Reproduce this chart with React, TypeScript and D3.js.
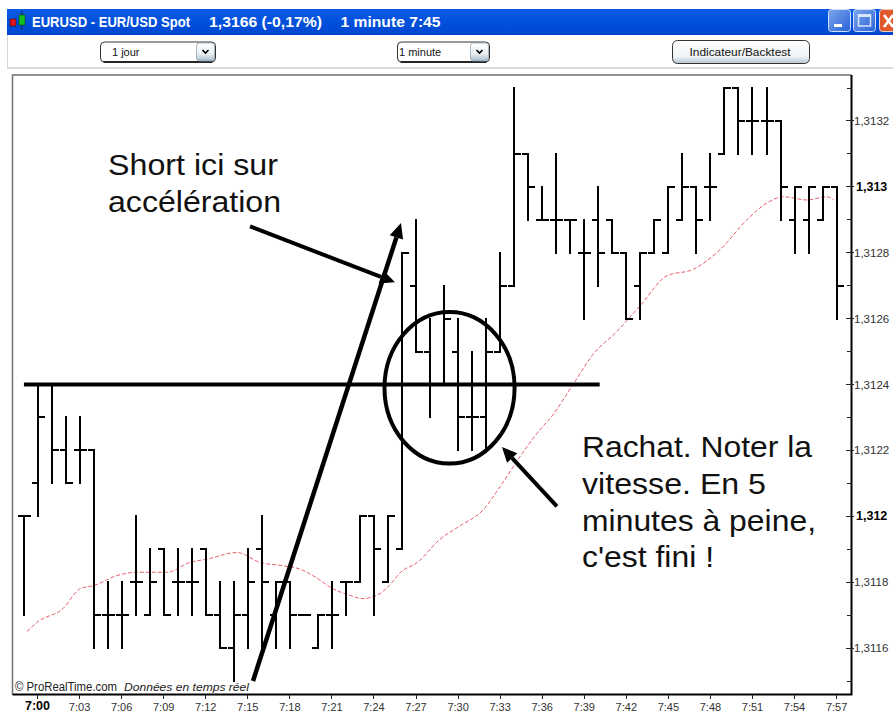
import React from "react";
import * as d3 from "d3";

// ---- OHLC bars, one per minute starting at 6:59 ----
const opens = [1.3120,1.3121,1.3124,1.3122,1.3122,1.3122,1.3117,1.3117,1.3118,1.3117,1.3119,1.3118,1.3118,1.3119,1.3117,1.3116,1.3117,1.3119,1.3117,1.3118,1.3117,1.3116,1.3117,1.3118,1.3118,1.3120,1.3118,1.3119,1.3127,1.3125,1.3124,1.3125,1.3123,1.3123,1.3125,1.3127,1.3131,1.3129,1.3129,1.3129,1.3128,1.3129,1.3129,1.3128,1.3127,1.3128,1.3128,1.3129,1.3130,1.3130,1.3131,1.3133,1.3132,1.3132,1.3132,1.3129,1.3129,1.3129,1.3130];
const highs = [1.3120,1.3124,1.3124,1.3123,1.3123,1.3122,1.3118,1.3118,1.3120,1.3119,1.3119,1.3119,1.3119,1.3119,1.3118,1.3118,1.3119,1.3120,1.3118,1.3118,1.3117,1.3117,1.3118,1.3118,1.3120,1.3120,1.3120,1.3128,1.3129,1.3126,1.3127,1.3126,1.3125,1.3126,1.3128,1.3133,1.3131,1.3130,1.3131,1.3129,1.3129,1.3130,1.3129,1.3128,1.3128,1.3129,1.3130,1.3131,1.3130,1.3131,1.3133,1.3133,1.3133,1.3133,1.3132,1.3130,1.3130,1.3130,1.3130];
const lows = [1.3117,1.3120,1.3121,1.3121,1.3121,1.3116,1.3116,1.3116,1.3117,1.3117,1.3117,1.3117,1.3117,1.3117,1.3116,1.3115,1.3116,1.3116,1.3116,1.3116,1.3117,1.3116,1.3116,1.3117,1.3118,1.3117,1.3118,1.3119,1.3125,1.3123,1.3124,1.3122,1.3122,1.3122,1.3125,1.3127,1.3129,1.3129,1.3128,1.3128,1.3126,1.3127,1.3128,1.3126,1.3126,1.3128,1.3128,1.3129,1.3128,1.3129,1.3131,1.3131,1.3131,1.3131,1.3129,1.3128,1.3128,1.3129,1.3126];
const closes = [1.3120,1.3123,1.3122,1.3121,1.3122,1.3117,1.3117,1.3117,1.3118,1.3118,1.3117,1.3118,1.3118,1.3117,1.3116,1.3117,1.3118,1.3118,1.3118,1.3117,1.3117,1.3117,1.3117,1.3118,1.3120,1.3119,1.3120,1.3128,1.3125,1.3124,1.3126,1.3123,1.3123,1.3125,1.3127,1.3131,1.3130,1.3129,1.3129,1.3129,1.3128,1.3128,1.3128,1.3126,1.3128,1.3129,1.3130,1.3130,1.3129,1.3130,1.3133,1.3132,1.3132,1.3132,1.3130,1.3130,1.3130,1.3130,1.3127];

// ---- moving average (position in bars, price) ----
const maPos = [0.25,1.03,2.82,4.03,5.03,6.67,8.1,10.24,11.88,13.09,15.23,16.87,18.5,19.7,20.65,22.07,23.3,24.14,25.2,26.1,26.9,28.1,29.7,31.1,32.8,34,35.4,36.6,37.8,39.2,40.6,42.3,44,45.9,47.8,49.7,51.6,53,54.2,55.9,57.3,57.8];
const maVal = [1.31165,1.31168,1.31172,1.31178,1.31179,1.31182,1.31183,1.31183,1.31186,1.31187,1.31189,1.31186,1.31185,1.31184,1.31182,1.31178,1.31176,1.31175,1.31176,1.31179,1.31183,1.31186,1.31193,1.31197,1.31202,1.31209,1.31218,1.31225,1.31231,1.3124,1.31249,1.31256,1.31264,1.31273,1.31275,1.31281,1.3129,1.31295,1.31297,1.31296,1.31297,1.31296];

// ---- axes ----
const yMajor = [1.3116,1.3118,1.312,1.3122,1.3124,1.3126,1.3128,1.313,1.3132];
const yMajorLabels = ["1,3116","1,3118","1,312","1,3122","1,3124","1,3126","1,3128","1,313","1,3132"];
const yBold = ["1,312","1,313"];
const yMinor = [1.3115,1.3117,1.3119,1.3121,1.3123,1.3125,1.3127,1.3129,1.3131,1.3133];
const xTickPos = [1,4,7,10,13,16,19,22,25,28,31,34,37,40,43,46,49,52,55,58];
const xTickLabels = ["7:00","7:03","7:06","7:09","7:12","7:15","7:18","7:21","7:24","7:27","7:30","7:33","7:36","7:39","7:42","7:45","7:48","7:51","7:54","7:57"];

// ---- hand-drawn annotations, in chart coordinates ----
const levelLine = { from: 0.03, to: 41.1, price: 1.3124 };
const circle = { pos: 30.39, price: 1.31239, rPos: 4.64, rPrice: 0.00023 };
const arrows = [
  { x1: 16.37, p1: 1.31150, x2: 26.93, p2: 1.31289, width: 4.5 },
  { x1: 16.16, p1: 1.31288, x2: 26.5, p2: 1.31271, width: 4 },
  { x1: 38.05, p1: 1.31203, x2: 34.13, p2: 1.31221, width: 4 },
];
const noteLeft = ["Short ici sur", "accélération"];
const noteLeftWidths = [170, 173];
const noteRight = ["Rachat. Noter la", "vitesse. En 5", "minutes à peine,", "c'est fini !"];
const noteRightWidths = [230, 184, 234, 132];

const W = 893, H = 712;
const x = d3.scaleLinear().domain([0, 58]).range([23.5, 836.6]);
const y = d3.scaleLinear().domain([1.3115, 1.3133]).range([681, 88]);
const maLine = d3.line<number>().x((_, i) => x(maPos[i])).y((v) => y(v)).curve(d3.curveMonotoneX);

const SANS = "'Liberation Sans', Arial, sans-serif";
const NARROW = "'Liberation Sans Narrow', 'Liberation Sans', Arial, sans-serif";

function ArrowMark({ a }: { a: (typeof arrows)[number] }) {
  const ax = x(a.x1), ay = y(a.p1), bx = x(a.x2), by = y(a.p2);
  const len = Math.hypot(bx - ax, by - ay);
  const ux = (bx - ax) / len, uy = (by - ay) / len;
  const L = 15, Wd = 7;
  const cx = bx - ux * L, cy = by - uy * L;
  const head = `M${bx},${by}L${cx - uy * Wd},${cy + ux * Wd}L${cx + uy * Wd},${cy - ux * Wd}Z`;
  return (
    <g>
      <line x1={ax} y1={ay} x2={cx} y2={cy} stroke="#000" strokeWidth={a.width} />
      <path d={head} fill="#000" />
    </g>
  );
}

function Select({ x0, w, label, tx }: { x0: number; w: number; label: string; tx: number }) {
  return (
    <g>
      <rect x={x0} y={42} width={w} height={20} rx={4} fill="#fff" stroke="#333" strokeWidth={1} />
      <line x1={x0 + 3} x2={x0 + w - 3} y1={62} y2={62} stroke="#000" strokeWidth={1.5} />
      <rect x={x0 + w - 19} y={43} width={18} height={18} rx={3} fill="url(#sel)" stroke="#8a9aa6" strokeWidth={0.7} />
      <path d={`M${x0 + w - 13},50l3,3l3,-3`} fill="none" stroke="#000" strokeWidth={1.6} />
      <text x={tx} y={56} fontFamily={SANS} fontSize={11} fill="#111">{label}</text>
    </g>
  );
}

export default function App() {
  const plot = { l: 12.5, t: 75, r: 851.5, b: 694.5 };
  return (
    <svg width={W} height={H} viewBox={`0 0 ${W} ${H}`} style={{ position: "fixed", left: 0, top: 0, display: "block", background: "#fff" }}>
      <defs>
        <linearGradient id="title" x1="0" y1="0" x2="0" y2="1">
          <stop offset="0" stopColor="#0a5be6" />
          <stop offset="0.5" stopColor="#0050dc" />
          <stop offset="1" stopColor="#0246d0" />
        </linearGradient>
        <linearGradient id="sel" x1="0" y1="0" x2="0" y2="1">
          <stop offset="0" stopColor="#ffffff" />
          <stop offset="0.6" stopColor="#e8eef2" />
          <stop offset="1" stopColor="#a5bccb" />
        </linearGradient>
        <linearGradient id="btn" x1="0" y1="0" x2="0" y2="1">
          <stop offset="0" stopColor="#ffffff" />
          <stop offset="0.7" stopColor="#f0f3f5" />
          <stop offset="1" stopColor="#b4c6d2" />
        </linearGradient>
        <linearGradient id="wbtn" x1="0" y1="0" x2="1" y2="1">
          <stop offset="0" stopColor="#7ea6ee" />
          <stop offset="1" stopColor="#2a62d8" />
        </linearGradient>
      </defs>

      {/* window title bar */}
      <rect x={7} y={9} width={886} height={26} fill="url(#title)" />
      <rect x={10} y={19} width={6} height={7} fill="#e0141c" stroke="#300" strokeWidth={0.5} />
      <line x1={22} y1={11} x2={22} y2={29} stroke="#222" strokeWidth={1} />
      <rect x={19} y={15} width={6} height={10} fill="#10c020" stroke="#030" strokeWidth={0.5} />
      <g fontFamily={NARROW} fontSize={15} fontWeight="bold" fill="#fff">
        <text x={32} y={27} textLength={158} lengthAdjust="spacingAndGlyphs">EURUSD - EUR/USD Spot</text>
        <text x={209} y={27} textLength={113} lengthAdjust="spacingAndGlyphs">1,3166 (-0,17%)</text>
        <text x={340.5} y={27} textLength={100} lengthAdjust="spacingAndGlyphs">1 minute  7:45</text>
      </g>
      <rect x={828.5} y={9.5} width={22} height={22} rx={3} fill="url(#wbtn)" stroke="#cfe0fa" />
      <rect x={834} y={24} width={8} height={3} fill="#fff" />
      <rect x={853.5} y={9.5} width={22} height={22} rx={3} fill="url(#wbtn)" stroke="#cfe0fa" />
      <rect x={858.5} y={15} width={12} height={11} fill="none" stroke="#d8e6fb" strokeWidth={1.5} />
      <rect x={858} y={14} width={13} height={3} fill="#d8e6fb" />
      <rect x={879.5} y={9.5} width={16} height={22} rx={3} fill="#e0582c" stroke="#f0d0c0" />
      <path d="M884,15L893,27M893,15L884,27" stroke="#fff" strokeWidth={2.6} />

      {/* toolbar */}
      <line x1={7.5} y1={35} x2={7.5} y2={68} stroke="#d5d5d5" />
      <line x1={7} y1={68} x2={893} y2={68} stroke="#cfcfcf" strokeWidth={1.5} />
      <Select x0={100.5} w={115} label="1 jour" tx={112} />
      <Select x0={397.5} w={92} label="1 minute" tx={399} />
      <rect x={672.5} y={40.5} width={137} height={23} rx={5} fill="url(#btn)" stroke="#333" />
      <text x={740} y={56} textAnchor="middle" fontFamily={SANS} fontSize={11} fill="#111" textLength={101} lengthAdjust="spacingAndGlyphs">Indicateur/Backtest</text>

      {/* plot frame */}
      <path d={`M${plot.l},${plot.b}V${plot.t}H${plot.r}`} fill="none" stroke="#707070" strokeWidth={1.5} />
      <path d={`M${plot.l},${plot.b}H${plot.r}V${plot.t}`} fill="none" stroke="#000" strokeWidth={2} />

      {/* y axis */}
      {yMinor.map((v) => (
        <line key={v} x1={plot.r - 5} x2={plot.r} y1={y(v)} y2={y(v)} stroke="#222" strokeWidth={1} shapeRendering="crispEdges" />
      ))}
      {yMajor.map((v, i) => {
        const bold = yBold.includes(yMajorLabels[i]);
        return (
          <g key={v}>
            <line x1={plot.r - 6} x2={plot.r + 2} y1={y(v)} y2={y(v)} stroke="#222" strokeWidth={1} shapeRendering="crispEdges" />
            <text x={bold ? 856 : 854} y={y(v) + 4} fontFamily={SANS} fontSize={bold ? 12.5 : 11.5} fontWeight={bold ? "bold" : "normal"} fill={bold ? "#000" : "#333"}>
              {yMajorLabels[i]}
            </text>
          </g>
        );
      })}

      {/* x axis */}
      {xTickPos.map((p, i) => (
        <g key={p}>
          <line x1={x(p)} x2={x(p)} y1={plot.b} y2={plot.b + 4} stroke="#222" strokeWidth={1} shapeRendering="crispEdges" />
          <text x={x(p)} y={i === 0 ? 710 : 711} textAnchor="middle" fontFamily={SANS} fontSize={i === 0 ? 12.5 : 11} fontWeight={i === 0 ? "bold" : "normal"} fill={i === 0 ? "#000" : "#333"}>
            {xTickLabels[i]}
          </text>
        </g>
      ))}

      {/* moving average */}
      <path d={maLine(maVal) ?? ""} fill="none" stroke="#e8606e" strokeWidth={1} strokeDasharray="4 2" />

      {/* OHLC bars */}
      <g stroke="#000" strokeWidth={2} shapeRendering="crispEdges">
        {opens.map((o, i) => (
          <g key={i}>
            {highs[i] !== lows[i] && <line x1={x(i)} x2={x(i)} y1={y(highs[i]) - 1} y2={y(lows[i]) + 1} />}
            <line x1={x(i) - 6} x2={x(i)} y1={y(o)} y2={y(o)} />
            <line x1={x(i)} x2={x(i) + 7} y1={y(closes[i])} y2={y(closes[i])} />
          </g>
        ))}
      </g>

      {/* watermark */}
      <text x={15} y={691} fontFamily={SANS} fontSize={12} fill="#222" textLength={102} lengthAdjust="spacingAndGlyphs">© ProRealTime.com</text>
      <text x={124} y={691} fontFamily={SANS} fontSize={11.5} fontStyle="italic" fill="#222" textLength={125} lengthAdjust="spacingAndGlyphs">Données en temps réel</text>

      {/* annotations */}
      <line x1={x(levelLine.from)} x2={x(levelLine.to)} y1={y(levelLine.price)} y2={y(levelLine.price)} stroke="#000" strokeWidth={4} />
      <ellipse
        cx={x(circle.pos)}
        cy={y(circle.price)}
        rx={x(circle.rPos) - x(0)}
        ry={y(0) - y(circle.rPrice)}
        fill="none"
        stroke="#000"
        strokeWidth={4}
      />
      {arrows.map((a, i) => <ArrowMark key={i} a={a} />)}
      <g fontFamily={SANS} fontSize={30} fill="#111">
        {noteLeft.map((t, i) => <text key={t} x={108} y={175 + i * 37} textLength={noteLeftWidths[i]} lengthAdjust="spacingAndGlyphs">{t}</text>)}
        {noteRight.map((t, i) => <text key={t} x={582} y={457 + i * 36.8} textLength={noteRightWidths[i]} lengthAdjust="spacingAndGlyphs">{t}</text>)}
      </g>
    </svg>
  );
}
